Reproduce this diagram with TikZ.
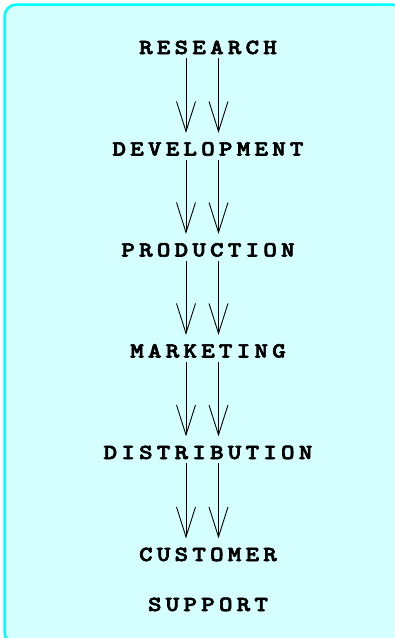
\documentclass[tikz,border=0pt]{standalone}
\usepackage{fontspec}
\newfontfamily\stagefont{lmmonolt10-bold}[Extension=.otf,FakeBold=3,FakeStretch=1.2]
\usepackage{tikz}
\usetikzlibrary{arrows.meta}
\definecolor{panelfill}{RGB}{213,255,255}
\definecolor{panelline}{RGB}{0,255,255}
% letter spaced caps
\def\spaced#1{\spacedfirst#1\relax}
\def\spacedfirst#1{#1\spacedrest}
\def\spacedrest#1{\ifx\relax#1\else\kern4.2pt#1\expandafter\spacedrest\fi}
\tikzstyle{panel}=[draw=panelline,fill=panelfill,line width=2.5pt,rounded corners=12pt]
\tikzstyle{stage}=[inner sep=0pt,anchor=base,font=\stagefont\fontsize{21.5}{26}\selectfont]
\tikzstyle{flow}=[draw,line width=0.9pt,-{Straight Barb[length=30pt,width=19pt,line width=0.9pt]},shorten <=4pt,shorten >=9pt]

\begin{document}
\begin{tikzpicture}[x=1pt,y=-1pt]

    \useasboundingbox (0,0) rectangle (395,638);
    \path[panel] (4.5,4.5) rectangle (404,644);

    \foreach \pos/\name/\word in {{(208,54)/research/RESEARCH}, {(208,155.5)/development/DEVELOPMENT}, {(208,256.5)/production/PRODUCTION}, {(208,357.5)/marketing/MARKETING}, {(208,459)/distribution/DISTRIBUTION}}
        \node[stage] (\name) at \pos {\expandafter\spaced\expandafter{\word}};

    % base of a two line node is its last line
    \node[stage,align=center] (customer) at (208,611) {\spaced{CUSTOMER}\\[24pt]\spaced{SUPPORT}};

   \foreach \source/\dest in {research/development, development/production, production/marketing, marketing/distribution, distribution/customer}
   {
        \path[flow] ([xshift=-22pt]\source.south) -- ([xshift=-22pt]\dest.north);
        \path[flow] ([xshift=10.5pt]\source.south) -- ([xshift=10.5pt]\dest.north);
   }

\end{tikzpicture}
\end{document}
